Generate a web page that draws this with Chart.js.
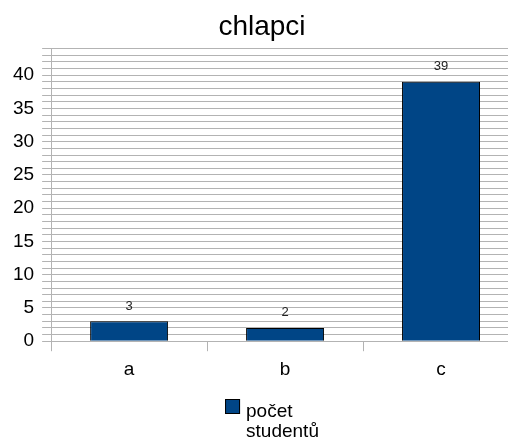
<!DOCTYPE html>
<html>
<head>
<meta charset="utf-8">
<script src="https://cdn.jsdelivr.net/npm/chart.js@4/dist/chart.umd.min.js"></script>
<style>
  html, body { margin: 0; padding: 0; overflow: hidden; background: #fff; }
  canvas { display: block; }
</style>
</head>
<body>
<canvas id="chart" width="548" height="443"></canvas>
<script>
const categories = ['a', 'b', 'c'];
const counts = [3, 2, 39];
const seriesLabel = ['počet', 'studentů'];
const chartTitle = 'chlapci';

const gridColor = '#b3b3b3';
const barColor = '#004586';
const fontFamily = '"Liberation Sans", Arial, sans-serif';

// value labels above each bar
const valueLabels = {
  id: 'valueLabels',
  afterDatasetsDraw(chart) {
    const { ctx } = chart;
    const meta = chart.getDatasetMeta(0);
    ctx.save();
    ctx.font = '13px ' + fontFamily;
    ctx.fillStyle = '#222';
    ctx.textAlign = 'center';
    ctx.textBaseline = 'middle';
    meta.data.forEach((bar, i) => {
      ctx.fillText(String(counts[i]), bar.x, bar.y - 15);
    });
    ctx.restore();
  }
};

// legend with a two-line label under the axis
const twoLineLegend = {
  id: 'twoLineLegend',
  afterDraw(chart) {
    const { ctx } = chart;
    const top = chart.height - 60;
    const box = 15;
    ctx.save();
    ctx.font = '19px ' + fontFamily;
    const textW = Math.max(...seriesLabel.map(t => ctx.measureText(t).width));
    const x0 = (chart.width - (box + 6 + textW)) / 2 - 2;
    ctx.fillStyle = barColor;
    ctx.fillRect(x0, top + 16, box, box);
    ctx.strokeStyle = '#000';
    ctx.lineWidth = 1;
    ctx.strokeRect(x0 + 0.5, top + 16.5, box - 1, box - 1);
    ctx.fillStyle = '#000';
    ctx.textAlign = 'left';
    ctx.textBaseline = 'alphabetic';
    seriesLabel.forEach((t, i) => ctx.fillText(t, x0 + box + 6, top + 34 + i * 20));
    ctx.restore();
  }
};

const ctx = document.getElementById('chart').getContext('2d');
const chart = new Chart(ctx, {
  type: 'bar',
  data: {
    labels: categories,
    datasets: [{
      label: seriesLabel.join(' '),
      data: counts,
      backgroundColor: barColor,
      borderColor: '#000',
      borderWidth: 1,
      barPercentage: 0.5,
      categoryPercentage: 1
    }]
  },
  options: {
    responsive: false,
    animation: false,
    layout: { padding: { left: 5, right: 29, top: 1, bottom: 55 } },
    scales: {
      x: {
        grid: {
          offset: true,
          drawOnChartArea: false,
          color: gridColor,
          tickLength: 10
        },
        border: { color: gridColor },
        ticks: {
          color: '#000',
          padding: 7,
          font: { family: fontFamily, size: 19 }
        }
      },
      y: {
        min: 0,
        max: 44,
        grid: { color: gridColor, tickLength: 9, lineWidth: 1 },
        border: { color: gridColor },
        ticks: {
          stepSize: 1,
          autoSkip: false,
          color: '#000',
          padding: 8,
          font: { family: fontFamily, size: 19 },
          callback: v => (v % 5 === 0 && v <= 40 ? v : '')
        }
      }
    },
    plugins: {
      title: {
        display: true,
        text: chartTitle,
        color: '#000',
        font: { family: fontFamily, size: 28, weight: 'normal' },
        padding: { top: 9, bottom: 5 }
      },
      legend: { display: false },
      tooltip: { enabled: false }
    }
  },
  plugins: [valueLabels, twoLineLegend]
});
</script>
</body>
</html>
